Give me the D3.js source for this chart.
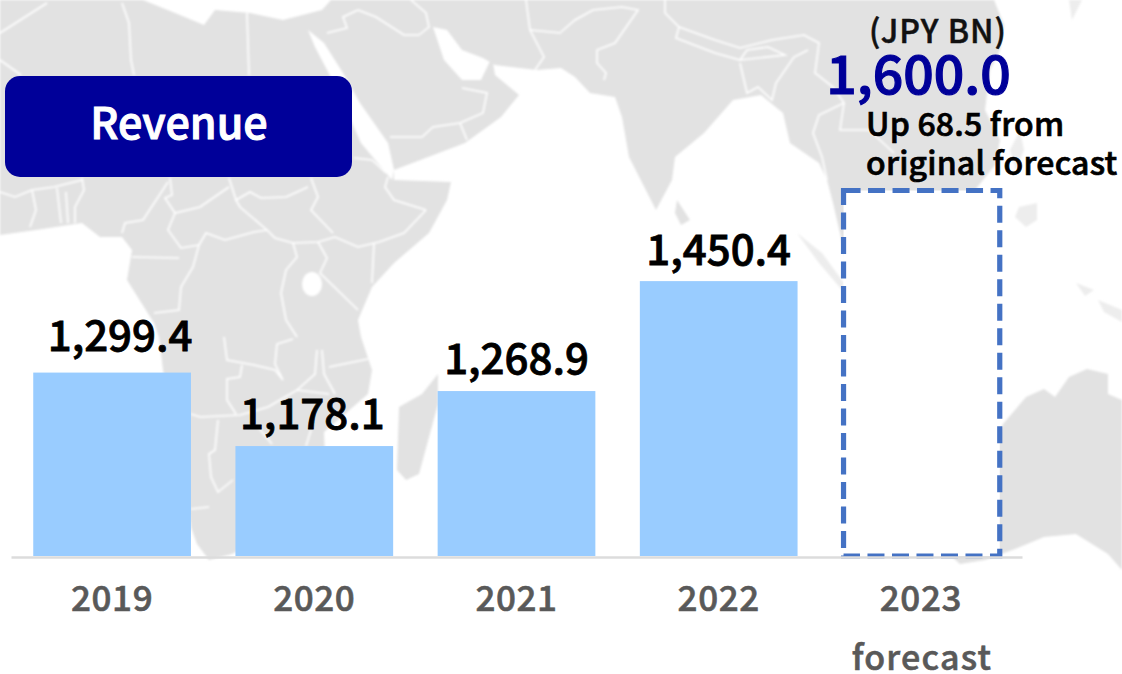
<!DOCTYPE html>
<html>
<head>
<meta charset="utf-8">
<script src="https://cdn.jsdelivr.net/npm/d3@7"></script>
<style>
  html, body { margin: 0; padding: 0; background: #fff; overflow: hidden; }
  text { font-family: "Noto Sans CJK JP", "Noto Sans", sans-serif; }
</style>
</head>
<body>
<div id="chart"></div>
<script>
// chart values
const years = ["2019", "2020", "2021", "2022", "2023"];
const revenue = [1299.4, 1178.1, 1268.9, 1450.4, 1600.0];
const isForecast = [false, false, false, false, true];
const unitLabel = "(JPY BN)";
const noteLines = ["Up 68.5 from", "original forecast"];

// background map, traced by eye (decoration only)
const landShapes = [
  // africa + asia
  [[0,0],[143,0],[175,13],[204,25],[215,10],[250,13],[283,20],[322,10],[331,0],[994,0],[1004,25],[1000,50],[990,70],[985,110],[1000,140],[995,165],[975,190],[900,300],[847,267],[840,233],[833,203],[827,180],[819,163],[790,143],[783,113],[761,95],[733,100],[704,133],[675,157],[672,180],[656,210],[629,157],[622,117],[615,97],[590,93],[575,77],[561,68],[537,70],[495,65],[483,58],[462,50],[447,30],[433,27],[444,60],[462,80],[481,80],[492,57],[495,75],[519,95],[501,117],[465,143],[394,170],[394,180],[451,182],[447,200],[429,233],[394,263],[372,287],[358,320],[361,337],[372,370],[368,394],[324,432],[326,480],[300,520],[232,554],[209,560],[197,544],[191,527],[180,440],[163,370],[159,337],[154,323],[127,280],[132,250],[122,237],[100,237],[82,223],[36,230],[0,235]],
  // madagascar
  [[438,374],[422,394],[399,407],[397,470],[406,480],[419,474],[438,404]],
  // sri lanka
  [[677,200],[690,220],[681,225],[675,213]],
  // australia
  [[1003,424],[1015,410],[1026,397],[1044,389],[1055,397],[1069,377],[1087,369],[1108,374],[1108,394],[1122,400],[1122,570],[1108,554],[1076,534],[1044,537],[1015,549],[985,560],[960,564],[950,555]]
];
const paleShapes = [
  [[797,233],[822,253],[844,283],[842,290],[819,263]],
  [[1019,207],[1037,203],[1037,220],[1026,227],[1015,217]],
  [[1076,283],[1094,290],[1085,296]],
  [[1098,300],[1122,310],[1122,322],[1104,312]],
  [[1010,150],[1020,130],[1024,150],[1016,170]],
  [[1069,0],[1082,0],[1072,20]]
];
const seaShapes = [
  // red sea
  [[308,30],[324,43],[343,73],[360,103],[388,143],[394,170],[392,180],[361,143],[336,87],[315,47]]
];
const borderLines = [
  [[247,13],[249,75]],
  [[122,3],[129,23],[131,60],[134,75]],
  [[47,3],[25,17],[0,33]],
  [[0,60],[21,75]],
  [[358,10],[376,17],[404,35],[419,35]],
  [[327,33],[347,28],[343,17],[358,10]],
  [[390,137],[422,137],[433,127],[460,123],[483,113],[487,93],[462,88]],
  [[460,123],[467,140]],
  [[0,192],[15,197],[32,190],[54,187],[82,180]],
  [[229,178],[236,200],[250,192],[261,198],[286,197],[308,187]],
  [[170,178],[172,195],[165,198],[175,213],[200,207],[229,187]],
  [[175,213],[168,230],[181,248],[199,245]],
  [[199,245],[206,233],[225,240],[254,232],[267,230],[275,238],[293,243],[318,242],[335,237],[358,247],[379,242],[404,233],[426,210]],
  [[236,200],[240,207],[267,230]],
  [[311,178],[318,197],[311,210],[333,233]],
  [[426,210],[394,200],[385,187],[388,177]],
  [[354,158],[372,160],[386,173]],
  [[374,243],[372,283]],
  [[318,242],[327,258],[320,273],[358,310]],
  [[199,245],[193,267],[181,287],[179,310],[154,313]],
  [[293,243],[297,257],[286,270],[281,293],[286,320],[297,337]],
  [[132,257],[179,258]],
  [[122,233],[125,223],[143,220],[168,182]],
  [[82,178],[84,190],[75,207],[75,223]],
  [[32,190],[36,210],[30,227]],
  [[57,188],[61,223]],
  [[66,192],[68,223]],
  [[224,337],[227,360],[254,365],[275,370],[283,380],[275,364],[277,344],[293,339]],
  [[242,365],[240,377],[227,379],[227,400],[236,414]],
  [[191,414],[200,417],[240,415],[268,407],[297,390],[329,394]],
  [[218,420],[215,450],[209,454],[211,477],[218,492],[233,480]],
  [[209,507],[191,509]],
  [[317,350],[315,374],[297,390]],
  [[322,350],[324,374],[335,394]],
  [[329,367],[368,359]],
  [[272,444],[258,427]],
  [[306,446],[311,430]],
  [[561,32],[575,20],[593,10],[622,7],[638,10],[615,43],[597,50],[597,63],[606,73],[604,80]],
  [[665,0],[665,13],[679,27],[676,38],[715,53],[740,60],[747,50],[768,47],[785,55],[740,60]],
  [[679,27],[715,40],[740,48],[772,40],[804,35],[819,43],[815,73],[833,87],[844,103],[819,115],[813,133],[822,157],[827,180]],
  [[740,63],[747,93],[758,87],[772,100],[776,83],[794,57],[808,50]],
  [[844,103],[840,130],[869,130],[894,153]],
  [[526,0],[530,30],[544,57],[535,70]],
  [[530,30],[561,33]],
  [[411,0],[426,13],[429,27],[419,35]]
];

const width = 1122, height = 674;
const baseY = 556;

const svg = d3.select("#chart").append("svg")
    .attr("width", width)
    .attr("height", height)
    .style("display", "block");

svg.append("filter").attr("id", "soft")
    .append("feGaussianBlur").attr("stdDeviation", 1);

// map
const outline = d3.line();
const map = svg.append("g").attr("filter", "url(#soft)");

map.selectAll(".land").data(landShapes).enter().append("path")
    .attr("d", d => outline(d) + "Z")
    .attr("fill", "#e2e2e2");
map.selectAll(".pale").data(paleShapes).enter().append("path")
    .attr("d", d => outline(d) + "Z")
    .attr("fill", "#ededed");
map.selectAll(".sea").data(seaShapes).enter().append("path")
    .attr("d", d => outline(d) + "Z")
    .attr("fill", "#fff");
map.selectAll(".border").data(borderLines).enter().append("path")
    .attr("d", outline)
    .attr("fill", "none")
    .attr("stroke", "#fff")
    .attr("stroke-width", 1.6);
// lake victoria
map.append("ellipse")
    .attr("cx", 312).attr("cy", 284).attr("rx", 10).attr("ry", 12)
    .attr("fill", "#fff");

// scales
const x = d3.scaleBand()
    .domain(years)
    .range([11, 1022])
    .paddingInner(0.22)
    .paddingOuter(0.11);

// the axis does not start at zero in the original
const y = d3.scaleLinear()
    .domain([996.6, 1600])
    .range([baseY, 190.5]);

// bars
svg.selectAll(".bar")
    .data(years)
    .enter()
    .append("rect")
    .attr("class", "bar")
    .attr("x", d => x(d) + (isForecast[years.indexOf(d)] ? 1.5 : 0))
    .attr("y", (d, i) => y(revenue[i]))
    .attr("width", d => x.bandwidth() - (isForecast[years.indexOf(d)] ? 1.5 : 0))
    .attr("height", (d, i) => baseY - y(revenue[i]))
    .attr("fill", (d, i) => isForecast[i] ? "#fff" : "#99ccff")
    .attr("stroke", (d, i) => isForecast[i] ? "#4472c4" : "none")
    .attr("stroke-width", 5.2)
    .attr("stroke-dasharray", (d, i) => isForecast[i] ? "17 7.5" : null);

// axis
const axis = svg.append("g")
    .attr("transform", `translate(0,${baseY + 1})`)
    .call(d3.axisBottom(x).tickSize(0).tickPadding(0));

axis.select(".domain")
    .attr("stroke", "#dcdcdc")
    .attr("stroke-width", 2.4);

axis.selectAll("text")
    .attr("y", 54)
    .attr("dy", 0)
    .attr("fill", "#595959")
    .attr("stroke", "#595959")
    .attr("stroke-width", 0.6)
    .style("font-size", "35px")
    .style("font-weight", 500)
    .style("letter-spacing", "0.6px");

svg.append("text")
    .attr("x", x("2023") + x.bandwidth() / 2 + 1)
    .attr("y", 670)
    .attr("text-anchor", "middle")
    .attr("fill", "#595959")
    .attr("stroke", "#595959")
    .attr("stroke-width", 0.6)
    .style("font-size", "34px")
    .style("font-weight", 500)
    .style("letter-spacing", "1.2px")
    .text("forecast");

// value labels, nudged the way they sit in the original
const nudgeX = [8, -2, 0, 0];
const nudgeY = [22, 17, 17, 16];
svg.selectAll(".value")
    .data(revenue.slice(0, 4))
    .enter()
    .append("text")
    .attr("class", "value")
    .attr("x", (d, i) => x(years[i]) + x.bandwidth() / 2 + nudgeX[i])
    .attr("y", (d, i) => y(d) - nudgeY[i])
    .attr("text-anchor", "middle")
    .attr("fill", "#000")
    .attr("stroke", "#000")
    .attr("stroke-width", 0.8)
    .style("font-size", "42px")
    .style("font-weight", 500)
    .text(d => d3.format(",.1f")(d));

// forecast block
svg.append("text")
    .attr("x", 938).attr("y", 43)
    .attr("text-anchor", "middle")
    .attr("fill", "#111")
    .attr("stroke", "#111")
    .attr("stroke-width", 0.5)
    .style("font-size", "32px")
    .style("font-weight", 500)
    .style("letter-spacing", "1px")
    .text(unitLabel);

svg.append("text")
    .attr("x", 918.5).attr("y", 94)
    .attr("text-anchor", "middle")
    .attr("fill", "#000099")
    .attr("stroke", "#000099")
    .attr("stroke-width", 1.2)
    .style("font-size", "53.5px")
    .style("font-weight", 500)
    .text(d3.format(",.1f")(revenue[4]));

svg.selectAll(".note")
    .data(noteLines)
    .enter()
    .append("text")
    .attr("class", "note")
    .attr("x", 866)
    .attr("y", (d, i) => 136 + i * 39)
    .attr("fill", "#000")
    .attr("stroke", "#000")
    .attr("stroke-width", 0.7)
    .style("font-size", "32px")
    .style("font-weight", 500)
    .style("letter-spacing", "0.2px")
    .text(d => d);

// title box
svg.append("rect")
    .attr("x", 5).attr("y", 76)
    .attr("width", 347).attr("height", 101)
    .attr("rx", 15)
    .attr("fill", "#000099");

svg.append("text")
    .attr("x", 179).attr("y", 139)
    .attr("text-anchor", "middle")
    .attr("fill", "#fff")
    .attr("stroke", "#fff")
    .attr("stroke-width", 1)
    .style("font-size", "43px")
    .style("font-weight", 500)
    .text("Revenue");
</script>
</body>
</html>
